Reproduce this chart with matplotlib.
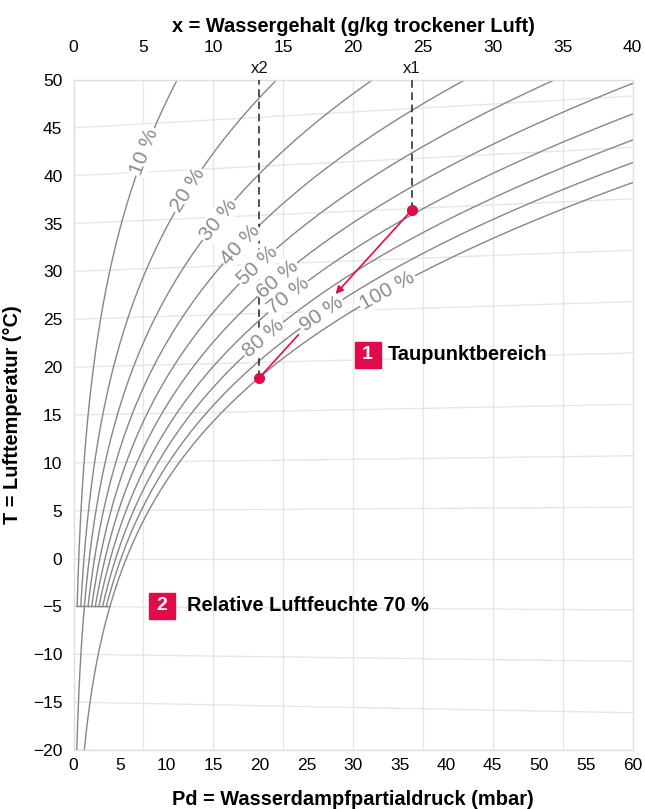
import numpy as np
import matplotlib
matplotlib.use("Agg")
import matplotlib.pyplot as plt

plt.rcParams['font.family'] = ['Liberation Sans', 'DejaVu Sans']

# ---- data -------------------------------------------------------------
rh_levels = [10, 20, 30, 40, 50, 60, 70, 80, 90, 100]          # relative humidity, %
rh_labels = ["10 %", "20 %", "30 %", "40 %", "50 %",
             "60 %", "70 %", "80 %", "90 %", "100 %"]
rh_to_minus20 = [30, 100]      # curves continued below -5 °C
iso_temps = [-20, -15, -10, -5, 0, 5, 10, 15, 20, 25, 30, 35, 40, 45, 50]  # °C
water_ticks = [0, 5, 10, 15, 20, 25, 30, 35, 40]                # g/kg
pd_ticks = [0, 5, 10, 15, 20, 25, 30, 35, 40, 45, 50, 55, 60]  # mbar
temp_ticks = [-20, -15, -10, -5, 0, 5, 10, 15, 20, 25, 30, 35, 40, 45, 50]

state_names = ["x1", "x2"]
state_water = [24.2, 13.3]   # g/kg
state_temp = [36.4, 18.9]    # °C

notes_num = ["1", "2"]
notes_text = ["Taupunktbereich", "Relative Luftfeuchte 70 %"]

# ---- physics of moist air (Mollier chart, skewed so 0 °C is horizontal) --
P_ATM = 1013.25


def p_sat(t):
    return 6.112 * np.exp(17.62 * t / (243.12 + t))


def water_content(phi, t):
    pd = phi * p_sat(t)
    return 622.0 * pd / (P_ATM - pd)


def chart_temp(t, x):
    return t * (1.0 + 1.86e-3 * x / 1.006)


# ---- figure -----------------------------------------------------------
crimson = "#e30a4c"
grid_c = "#e6e6e6"
curve_c = "#868686"
label_c = "#8c8c8c"

fig = plt.figure(figsize=(6.45, 8.09), dpi=100)
ax = fig.add_axes([73.5 / 645, 1 - 750 / 809, 559 / 645, 670 / 809])
ax.set_xlim(0, 40)
ax.set_ylim(-20, 50)

# grid: constant water content (vertical) and isotherms (slightly tilted)
for w in water_ticks[1:-1]:
    ax.plot([w, w], [-20, 50], color=grid_c, lw=1.0, zorder=1)
xs = np.array([0.0, 40.0])
for t in iso_temps:
    ax.plot(xs, chart_temp(t, xs), color=grid_c, lw=1.0, zorder=1)

# relative humidity curves
curves = {}
for rh in rh_levels:
    t_lo = -20.0 if rh in rh_to_minus20 else -5.0
    t = np.linspace(t_lo, 60, 800)
    x = water_content(rh / 100.0, t)
    y = chart_temp(t, x)
    curves[rh] = (x, y)
    ax.plot(x, y, color=curve_c, lw=1.0, zorder=2)

# closing line of the curve bundle at -5 °C
x_m5 = [water_content(rh / 100.0, -5.0) for rh in (rh_levels[0], rh_levels[-1])]
ax.plot(x_m5, [chart_temp(-5.0, v) for v in x_m5], color=curve_c, lw=1.0, zorder=2)

# curve labels along the lines
label_temp = [42.5, 38.5, 35.4, 32.8, 30.6, 29.2, 27.4, 23.0, 25.6, 28.0]
fig.canvas.draw()
for rh, lab, ty in zip(rh_levels, rh_labels, label_temp):
    x, y = curves[rh]
    xl = np.interp(ty, y, x)
    p0 = ax.transData.transform((np.interp(ty - 0.6, y, x), ty - 0.6))
    p1 = ax.transData.transform((np.interp(ty + 0.6, y, x), ty + 0.6))
    ang = np.degrees(np.arctan2(p1[1] - p0[1], p1[0] - p0[0]))
    ax.text(xl, ty, lab, rotation=ang, rotation_mode='anchor',
            ha='center', va='center', color=label_c, fontsize=15, zorder=4,
            bbox=dict(fc='white', ec='none', pad=1.2))

# state points with their water content marks
for name, w, tp in zip(state_names, state_water, state_temp):
    ax.plot([w, w], [tp, 50], color='#222222', lw=1.1, ls=(0, (5, 3)), zorder=3)
    ax.plot(w, tp, 'o', color=crimson, ms=7, zorder=6)
    ax.annotate(name, (w, 50), xytext=(0, 3), textcoords='offset points',
                ha='center', va='bottom', fontsize=12, color='#111111',
                annotation_clip=False)

# cooling path from x1 towards x2
(wa, wb), (ta, tb) = state_water, state_temp
s_head, s_tail = 0.5, 0.745
ax.annotate('', xy=(wa + s_head * (wb - wa), ta + s_head * (tb - ta)), xytext=(wa, ta),
            arrowprops=dict(arrowstyle='-|>', color=crimson, lw=1.2,
                            mutation_scale=11, shrinkA=0, shrinkB=0), zorder=5)
ax.plot([wa + s_tail * (wb - wa), wb], [ta + s_tail * (tb - ta), tb],
        color=crimson, lw=1.2, zorder=5)

# numbered notes
note_pos = [(21.05, 21.3), (6.35, -4.95)]
note_gap = [14.5, 17.5]
for num, txt, (nx, ny), gap in zip(notes_num, notes_text, note_pos, note_gap):
    ax.plot(nx, ny, marker='s', ms=18.5, color=crimson, zorder=6)
    ax.text(nx, ny, num, ha='center', va='center', color='white',
            fontsize=14, fontweight='bold', zorder=7)
    ax.annotate(txt, (nx, ny), xytext=(gap, 0), textcoords='offset points',
                ha='left', va='center', fontsize=14.4, fontweight='bold',
                color='black', zorder=7)

# axes: water content on top, vapour pressure at the bottom
ax.xaxis.set_ticks_position('top')
ax.set_xticks(water_ticks)
ax.set_xticklabels([str(v) for v in water_ticks])
ax.tick_params(axis='x', length=0, pad=18, labelsize=12.5)
ax.set_xlabel("x = Wassergehalt (g/kg trockener Luft)", fontsize=14.4,
              fontweight='bold', labelpad=6)
ax.xaxis.set_label_position('top')

sec = ax.secondary_xaxis('bottom', functions=(lambda w: w * 1.5, lambda p: p / 1.5))
sec.set_xticks(pd_ticks)
sec.set_xticklabels([str(v) for v in pd_ticks])
sec.tick_params(length=0, pad=6, labelsize=12.5)
sec.set_xlabel("Pd = Wasserdampfpartialdruck (mbar)", fontsize=14.4,
               fontweight='bold', labelpad=12)
for s in sec.spines.values():
    s.set_visible(False)

ax.set_yticks(temp_ticks)
ax.set_yticklabels([str(v).replace('-', '\u2212') for v in temp_ticks])
ax.tick_params(axis='y', length=0, pad=8, labelsize=12.5)
ax.set_ylabel("T = Lufttemperatur (°C)", fontsize=14.4, fontweight='bold', labelpad=8)

for s in ax.spines.values():
    s.set_color('#dddddd')
    s.set_linewidth(1.0)

fig.savefig("out.png", dpi=100)
